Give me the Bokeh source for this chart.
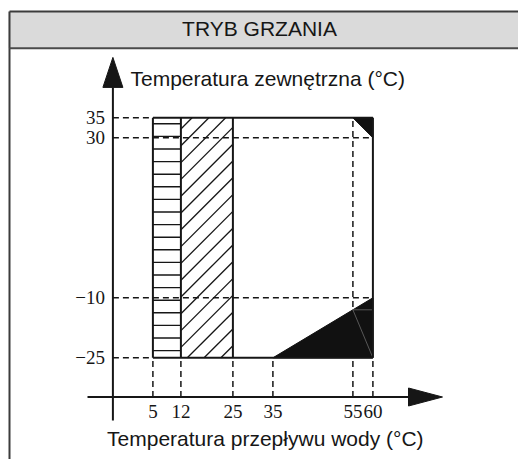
import numpy as np
from bokeh.plotting import figure
from bokeh.models import Range1d
from bokeh.core.properties import value
from bokeh.embed import file_html
from bokeh.resources import INLINE

# ---------------- data ----------------
title_text = "TRYB GRZANIA"
y_title = "Temperatura zewnętrzna (°C)"
x_title = "Temperatura przepływu wody (°C)"

x_ticks = [5, 12, 25, 35, 55, 60]
x_tick_labels = ["5", "12", "25", "35", "55", "60"]
y_ticks = [35, 30, -10, -25]
y_tick_labels = ["35", "30", "−10", "−25"]

# operating envelope (water flow temp, outdoor temp)
water_min, water_split1, water_split2, water_max = 5, 12, 25, 60
out_min, out_max = -25, 35

# black corner zones
corner_top_x = [55, 60, 60]
corner_top_y = [35, 35, 30]
corner_bot_x = [35, 60, 60]
corner_bot_y = [-25, -25, -10]

# dashed guide lines
h_guides_y = [35, 30, -10, -25]
h_guides_x_end = [5, 60, 60, 5]
v_guides_x = [5, 12, 25, 35, 55, 60]
v_guides_y_end = [-25, -25, -25, -25, 35, -25]

# ---------------- layout ----------------
axis_x0 = -5.0      # where the vertical axis sits
axis_y0 = -34.8     # where the horizontal axis sits
INK = "#161616"

p = figure(width=518, height=459,
           x_range=Range1d(-33.1, 96.4), y_range=Range1d(-50.425, 64.325),
           output_backend="svg", toolbar_location=None, min_border=0,
           x_axis_location=None, y_axis_location=None,
           outline_line_color=None, background_fill_color="white",
           border_fill_color="white")
for g in p.grid:
    g.visible = False

# frame + header band
p.quad(left=-31.1, right=96.4, top=61.6, bottom=52.4,
       fill_color="#dadada", line_color=None)
p.segment(x0=[-30.85, -30.85, -30.85], y0=[61.6, 61.6, 52.4],
          x1=[-30.85, 96.4, 96.4], y1=[-50.5, 61.6, 52.4],
          line_color=["#3c3c3c", "#3c3c3c", "#4a4a4a"], line_width=2)
p.text(x=[31.65], y=[57.3], text=[title_text], text_align="center",
       text_baseline="middle", text_font=value("Liberation Sans"),
       text_font_size="21px", text_color=INK)

# dashed guides
p.segment(x0=[axis_x0] * len(h_guides_y), y0=h_guides_y,
          x1=h_guides_x_end, y1=h_guides_y,
          line_color=INK, line_width=1.5, line_dash="6 4")
p.segment(x0=v_guides_x, y0=[axis_y0] * len(v_guides_x),
          x1=v_guides_x, y1=v_guides_y_end,
          line_color=INK, line_width=1.5, line_dash="6 4")

# horizontal hatching (5..12)
hy = np.arange(33.5, out_min, -3.15)
p.segment(x0=[water_min] * len(hy), y0=hy, x1=[water_split1] * len(hy), y1=hy,
          line_color=INK, line_width=1.4)

# diagonal hatching (12..25), 45 degree lines
dx0, dy0, dx1, dy1 = [], [], [], []
c = 20.2
while c >= out_min - water_split2:
    xs = max(water_split1, out_min - c)
    xe = min(water_split2, out_max - c)
    if xs < xe:
        dx0.append(xs); dy0.append(xs + c); dx1.append(xe); dy1.append(xe + c)
    c -= 4.2
p.segment(x0=dx0, y0=dy0, x1=dx1, y1=dy1, line_color=INK, line_width=1.3)

# black corners
p.patch(corner_top_x, corner_top_y, fill_color="#111111", line_color="#111111")
p.patch(corner_bot_x, corner_bot_y, fill_color="#111111", line_color="#111111")
p.segment(x0=[55, 55], y0=[-13, -13], x1=[60, 60], y1=[-13, -25],
          line_color="#6a6a6a", line_width=0.8)

# solid envelope outline
vx = [water_min, water_split1, water_split2, water_max]
p.segment(x0=vx, y0=[out_min] * 4, x1=vx, y1=[out_max] * 4,
          line_color=INK, line_width=2)
p.segment(x0=[water_min, water_min], y0=[out_max, out_min],
          x1=[water_max, water_max], y1=[out_max, out_min],
          line_color=INK, line_width=2)

# axes
p.segment(x0=[axis_x0, -11.35], y0=[-40.7, axis_y0],
          x1=[axis_x0, 68.9], y1=[42.6, axis_y0],
          line_color=INK, line_width=2)
p.patch([axis_x0 - 2.5, axis_x0, axis_x0 + 2.5], [42.6, 50.1, 42.6],
        fill_color=INK, line_color=INK)
p.patch([68.9, 77.4, 68.9], [axis_y0 + 2.25, axis_y0, axis_y0 - 2.25],
        fill_color=INK, line_color=INK)

# tick labels
p.text(x=x_ticks, y=[-38.4] * len(x_ticks), text=x_tick_labels,
       text_align="center", text_baseline="middle",
       text_font=value("Liberation Serif"), text_font_size="19px",
       text_color=INK)
p.text(x=[-7.0] * len(y_ticks), y=y_ticks, text=y_tick_labels,
       text_align="right", text_baseline="middle",
       text_font=value("Liberation Serif"), text_font_size="19px",
       text_color=INK)

# axis titles
p.text(x=[-0.6], y=[44.95], text=[y_title], text_align="left",
       text_baseline="middle", text_font=value("Liberation Sans"),
       text_font_size="21px", text_color=INK)
p.text(x=[33.1], y=[-45.2], text=[x_title], text_align="center",
       text_baseline="middle", text_font=value("Liberation Sans"),
       text_font_size="21px", text_color=INK)

open("out.html", "w").write(file_html(p, INLINE))
